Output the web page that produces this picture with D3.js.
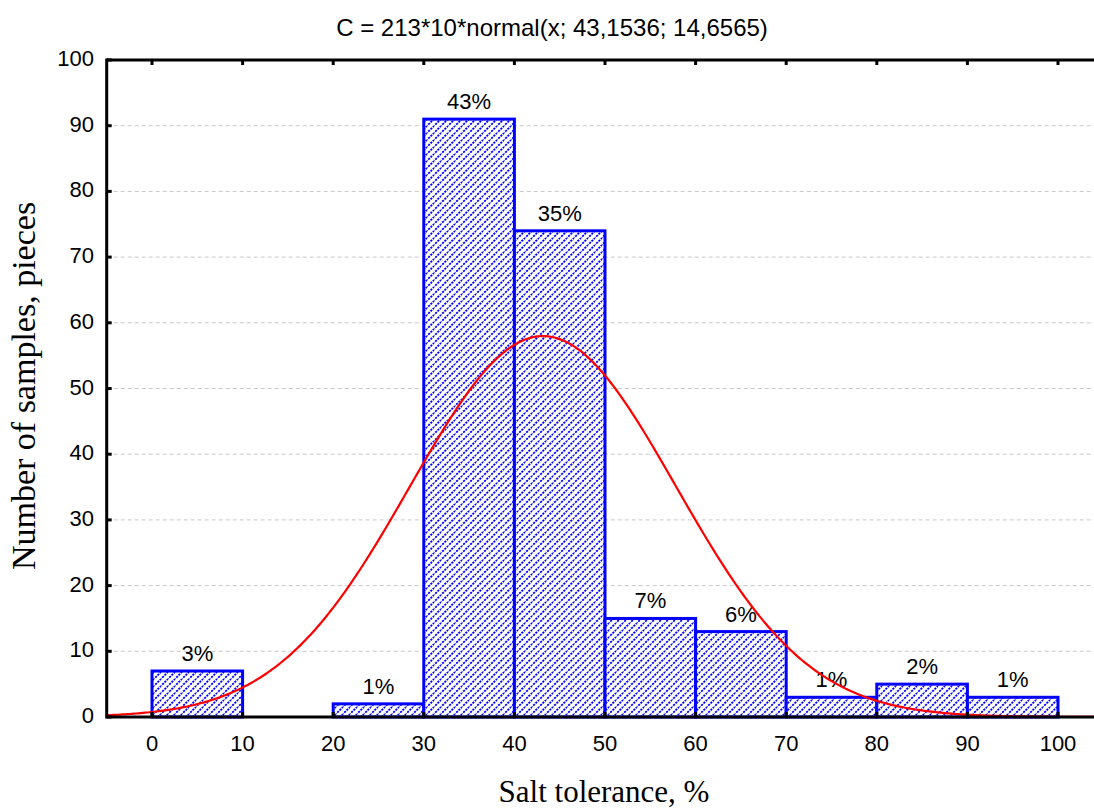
<!DOCTYPE html>
<html><head><meta charset="utf-8">
<script src="https://cdn.jsdelivr.net/npm/d3@7"></script>
<style>body{margin:0;background:#fff}svg{display:block}</style>
</head><body>
<svg id="c" width="1094" height="810"></svg>
<script>
const binStarts = [0, 20, 30, 40, 50, 60, 70, 80, 90];
const binWidth = 10;
const counts = [7, 2, 91, 74, 15, 13, 3, 5, 3];
const pctLabels = ["3%", "1%", "43%", "35%", "7%", "6%", "1%", "2%", "1%"];
const xTicks = [0, 10, 20, 30, 40, 50, 60, 70, 80, 90, 100];
const yTicks = [0, 10, 20, 30, 40, 50, 60, 70, 80, 90, 100];
const fitParams = [213, 10, 43.1536, 14.6565]; // N, bin width, mean, sd
const titleText = "C = 213*10*normal(x; 43,1536; 14,6565)";

const svg = d3.select("#c");
const x = d3.scaleLinear().domain([-5, 105]).range([106.7, 1103.3]);
const y = d3.scaleLinear().domain([0, 100]).range([717, 60]);

const defs = svg.append("defs");
const P = 7;
const pat = defs.append("pattern").attr("id","hatch").attr("patternUnits","userSpaceOnUse")
  .attr("width",P).attr("height",P);
pat.append("rect").attr("width",P).attr("height",P).attr("fill","#fff");
pat.append("path").attr("d",`M-1,${P+1} L${P+1},-1 M-${P/2+1},${P/2+1} L${P/2+1},-${P/2+1} M${P/2-1},${P*1.5+1} L${P*1.5+1},${P/2-1}`)
  .attr("stroke","#0000ff").attr("stroke-width",1.8).attr("stroke-dasharray","2.2,1");
defs.append("clipPath").attr("id","clip").append("rect")
  .attr("x",x(-5)).attr("y",y(100)).attr("width",x(105)-x(-5)).attr("height",y(0)-y(100));

// grid
svg.append("g").selectAll("line").data(yTicks.filter(d=>d>0&&d<100)).join("line")
  .attr("x1",x(-5)).attr("x2",x(105)).attr("y1",d=>y(d)).attr("y2",d=>y(d))
  .attr("stroke","#c8c8c8").attr("stroke-width",1).attr("stroke-dasharray","4,3");

// bars
svg.append("g").selectAll("rect").data(binStarts).join("rect")
  .attr("x",(d)=>x(d)).attr("width",d=>x(d+binWidth)-x(d))
  .attr("y",(d,i)=>y(counts[i])).attr("height",(d,i)=>y(0)-y(counts[i]))
  .attr("fill","url(#hatch)").attr("stroke","#0000ff").attr("stroke-width",3);

const sans = "Liberation Sans, Arial, sans-serif";
// labels
svg.append("g").selectAll("text").data(binStarts).join("text")
  .attr("x",d=>x(d+binWidth/2)).attr("y",(d,i)=>y(counts[i])-10)
  .attr("text-anchor","middle").attr("font-family",sans)
  .attr("font-size",22).attr("fill","#000").text((d,i)=>pctLabels[i]);

// normal curve
const [N, bw, mu, sd] = fitParams;
const xs = d3.range(-5, 105.01, 0.25);
const pdf = v => N*bw*Math.exp(-0.5*((v-mu)/sd)**2)/(sd*Math.sqrt(2*Math.PI));
svg.append("path").datum(xs).attr("clip-path","url(#clip)")
  .attr("d", d3.line().x(d=>x(d)).y(d=>y(pdf(d))))
  .attr("fill","none").attr("stroke","#ff0000").attr("stroke-width",2.2);

// axes frame
const ax = svg.append("g").attr("stroke","#000").attr("stroke-width",3);
ax.append("line").attr("x1",x(-5)).attr("x2",x(105)).attr("y1",y(0)).attr("y2",y(0));
ax.append("line").attr("x1",x(-5)).attr("x2",x(105)).attr("y1",y(100)).attr("y2",y(100));
ax.append("line").attr("x1",x(-5)).attr("x2",x(-5)).attr("y1",y(0)+1.5).attr("y2",y(100)-1.5);
ax.append("line").attr("x1",x(105)).attr("x2",x(105)).attr("y1",y(0)).attr("y2",y(100));

// ticks
const tk = svg.append("g").attr("stroke","#000").attr("stroke-width",3);
xTicks.forEach(t=>{
  tk.append("line").attr("x1",x(t)).attr("x2",x(t)).attr("y1",y(0)).attr("y2",y(0)-5);
  tk.append("line").attr("x1",x(t)).attr("x2",x(t)).attr("y1",y(100)).attr("y2",y(100)+5);
});
yTicks.forEach(t=>{
  tk.append("line").attr("x1",x(-5)).attr("x2",x(-5)+5).attr("y1",y(t)).attr("y2",y(t));
});

svg.append("g").selectAll("text").data(xTicks).join("text")
  .attr("x",d=>x(d)).attr("y",751).attr("text-anchor","middle")
  .attr("font-family",sans).attr("font-size",22).text(d=>d);
svg.append("g").selectAll("text").data(yTicks).join("text")
  .attr("x",94).attr("y",d=>y(d)+6).attr("text-anchor","end")
  .attr("font-family",sans).attr("font-size",22).text(d=>d);

svg.append("text").attr("x",552).attr("y",36).attr("text-anchor","middle")
  .attr("font-family",sans).attr("font-size",24).text(titleText);

const serif = "Liberation Serif, Times New Roman, serif";
svg.append("text").attr("x",604).attr("y",802).attr("text-anchor","middle")
  .attr("font-family",serif).attr("font-size",31).text("Salt tolerance, %");
svg.append("text").attr("transform","translate(35,386) rotate(-90)").attr("text-anchor","middle")
  .attr("font-family",serif).attr("font-size",34).text("Number of samples, pieces");
</script>
</body></html>
